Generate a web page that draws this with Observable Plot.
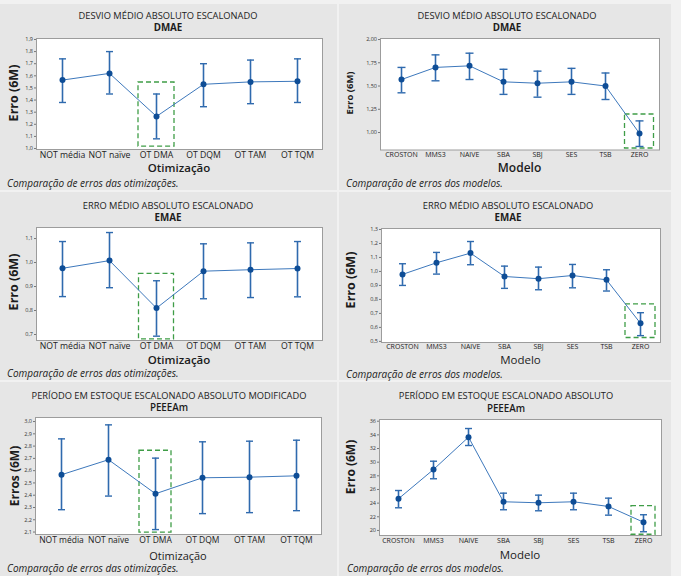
<!DOCTYPE html>
<html><head><meta charset="utf-8">
<script src="https://cdn.jsdelivr.net/npm/d3@7"></script>
<script src="https://cdn.jsdelivr.net/npm/@observablehq/plot@0.6"></script>
<style>
body{margin:0;background:#fff;font-family:"Open Sans",sans-serif;}
#page{position:relative;width:681px;height:576px;background:#f1f1f1;overflow:hidden;}
.panel{position:absolute;background:#e6e6e6;}
.t{position:absolute;white-space:nowrap;color:#1c1c1c;line-height:1;transform:translate(-50%,-50%);}
.cap{transform:translate(0,-50%);font-style:italic;font-size:10px;}
.yl{transform:translate(-50%,-50%) rotate(-90deg);font-weight:700;}
.svgwrap{position:absolute;}
.svgwrap svg{overflow:visible;}
</style></head><body><div id="page"></div>
<script>
// ---------- categories ----------
const optCats = ["NOT média","NOT naïve","OT DMA","OT DQM","OT TAM","OT TQM"];
const modCats = ["CROSTON","MMS3","NAIVE","SBA","SBJ","SES","TSB","ZERO"];

// ---------- DMAE ----------
const dmaeOptMean = [1.565,1.62,1.265,1.53,1.55,1.555];
const dmaeOptLow  = [1.38,1.45,1.08,1.345,1.37,1.38];
const dmaeOptHigh = [1.74,1.80,1.45,1.70,1.73,1.74];
const dmaeModMean = [1.57,1.70,1.717,1.545,1.53,1.545,1.50,0.99];
const dmaeModLow  = [1.427,1.556,1.57,1.41,1.38,1.41,1.355,0.85];
const dmaeModHigh = [1.70,1.835,1.853,1.68,1.66,1.69,1.64,1.125];

// ---------- EMAE ----------
const emaeOptMean = [0.976,1.008,0.81,0.964,0.97,0.975];
const emaeOptLow  = [0.858,0.895,0.693,0.849,0.854,0.857];
const emaeOptHigh = [1.0875,1.125,0.924,1.078,1.082,1.0875];
const emaeModMean = [0.979,1.062,1.131,0.964,0.948,0.971,0.94,0.629];
const emaeModLow  = [0.90,0.981,1.048,0.879,0.869,0.883,0.86,0.541];
const emaeModHigh = [1.055,1.136,1.214,1.038,1.031,1.05,1.012,0.705];

// ---------- PEEEAm ----------
const peeOptMean = [2.567,2.689,2.412,2.542,2.547,2.558];
const peeOptLow  = [2.282,2.393,2.12,2.25,2.258,2.274];
const peeOptHigh = [2.859,2.973,2.702,2.835,2.84,2.848];
const peeModMean = [24.64,28.93,33.66,24.2,24.05,24.2,23.51,21.21];
const peeModLow  = [23.32,27.57,32.44,23.03,22.88,23.03,22.24,19.81];
const peeModHigh = [25.85,30.14,34.93,25.46,25.17,25.46,24.73,22.3];

// ---------- tick values ----------
const dmaeOptTicks = [1.0,1.1,1.2,1.3,1.4,1.5,1.6,1.7,1.8,1.9];
const dmaeModTicks = [1.00,1.25,1.50,1.75,2.00];
const emaeOptTicks = [0.7,0.8,0.9,1.0,1.1];
const emaeModTicks = [0.5,0.6,0.7,0.8,0.9,1.0,1.1,1.2,1.3];
const peeOptTicks  = [2.1,2.2,2.3,2.4,2.5,2.6,2.7,2.8,2.9,3.0];
const peeModTicks  = [20,22,24,26,28,30,32,34,36];

// ---------- highlighted (dashed green) ranges ----------
const dmaeOptBox = [1.016,1.545];
const dmaeModBox = [0.828,1.194];
const emaeOptBox = [0.68,0.953];
const emaeModBox = [0.524,0.764];
const peeOptBox  = [2.095,2.762];
const peeModBox  = [19.37,23.55];

// ---------- texts ----------
const titlesDMAE = ["DESVIO MÉDIO ABSOLUTO ESCALONADO","DMAE"];
const titlesEMAE = ["ERRO MÉDIO ABSOLUTO ESCALONADO","EMAE"];
const titlesPEEOpt = ["PERÍODO EM ESTOQUE ESCALONADO ABSOLUTO MODIFICADO","PEEEAm"];
const titlesPEEMod = ["PERÍODO EM ESTOQUE ESCALONADO ABSOLUTO","PEEEAm"];
const capOpt = "Comparação de erros das otimizações.";
const capMod = "Comparação de erros dos modelos.";

const page = document.getElementById("page");
const comma = k => d => d.toFixed(k).replace(".", ",");
// horizontal-bar symbol used for the error-bar caps (half-width = r)
const capSymbol = {draw(ctx, size){ const h = Math.sqrt(size / Math.PI); ctx.moveTo(-h, 0); ctx.lineTo(h, 0); }};

function txt(s, x, y, cls, style){
  const d = document.createElement("div");
  d.className = "t " + (cls||"");
  d.textContent = s;
  d.style.left = x + "px"; d.style.top = y + "px";
  Object.assign(d.style, style||{});
  page.appendChild(d);
}

function panel(c){
  const p = c.panel, f = c.frame;
  const bg = document.createElement("div");
  bg.className = "panel";
  Object.assign(bg.style, {left:p.x+"px", top:p.y+"px", width:p.w+"px", height:p.h+"px"});
  page.appendChild(bg);

  const data = c.cats.map((k,i)=>({c:k, m:c.mean[i], lo:c.low[i], hi:c.high[i]}));
  const box = [{c:c.boxCat, y1:c.box[0], y2:c.box[1]}];
  const blue = "#2f6aae";
  const svg = Plot.plot({
    width: p.w, height: p.h,
    marginLeft: f.x0 - p.x, marginRight: p.x + p.w - f.x1,
    marginTop: f.y0 - p.y, marginBottom: p.y + p.h - f.y1,
    style: {background:"transparent", fontFamily:"'Open Sans', sans-serif", color:"#222"},
    x: {type:"point", domain:c.cats, padding:0.5},
    y: {domain:c.ydom},
    marks: [
      Plot.frame({fill:"white", stroke:"#9c9c9c"}),
      Plot.axisY(c.ticks, {tickFormat:c.fmt, tickSize:2, tickPadding:1.5, fontSize:5.5, label:null, stroke:"#777", fill:"#333"}),
      Plot.axisX({tickSize:0, tickPadding:c.xtp||2.5, fontSize:c.xfs, label:null, fill:"#222"}),
      Plot.rect(box, {x1:"c", x2:"c", y1:"y1", y2:"y2", insetLeft:-c.hw, insetRight:-c.hw, fill:"none", stroke:"#3f9d47", strokeWidth:1.3, strokeDasharray:"5,3"}),
      Plot.line(data, {x:"c", y:"m", stroke:"#3d78bc", strokeWidth:1}),
      Plot.ruleX(data, {x:"c", y1:"lo", y2:"hi", stroke:blue, strokeWidth:1.6}),
      Plot.dot(data, {x:"c", y:"lo", r:c.cap, symbol:capSymbol, stroke:blue, strokeWidth:1.4}),
      Plot.dot(data, {x:"c", y:"hi", r:c.cap, symbol:capSymbol, stroke:blue, strokeWidth:1.4}),
      Plot.dot(data, {x:"c", y:"m", r:3, fill:"#0e4d96"})
    ]
  });
  const w = document.createElement("div");
  w.className = "svgwrap";
  w.style.left = p.x + "px"; w.style.top = p.y + "px";
  w.appendChild(svg);
  page.appendChild(w);

  const cx = (f.x0 + f.x1) / 2;
  txt(c.titles[0], c.tx, c.ty1, "", {fontSize:"9.3px"});
  txt(c.titles[1], c.tx, c.ty2, "", {fontSize:"9.8px", fontWeight:c.t2w||"700"});
  txt(c.xlabel, cx, c.xly, "", {fontSize:c.xlfs+"px", fontWeight:c.xlw});
  txt(c.ylabel, c.ylx, c.yly, "yl", {fontSize:c.ylfs+"px"});
  txt(c.caption, c.capx, c.capy, "cap");
}

panel({panel:{x:0,y:4,w:337,h:186}, frame:{x0:36,x1:322,y0:38,y1:149},
  cats:optCats, mean:dmaeOptMean, low:dmaeOptLow, high:dmaeOptHigh,
  ydom:[0.992,1.908], ticks:dmaeOptTicks, fmt:comma(1), xfs:8.7,
  boxCat:"OT DMA", box:dmaeOptBox, hw:18, cap:3.5,
  titles:titlesDMAE, tx:168, ty1:15.5, ty2:27.5,
  xlabel:"Otimização", xly:167.5, xlfs:11.5, xlw:600,
  ylabel:"Erro (6M)", ylx:14, yly:93, ylfs:12.5,
  caption:capOpt, capx:7, capy:183});

panel({panel:{x:339,y:4,w:332,h:186}, frame:{x0:380,x1:659,y0:38,y1:149.5},
  cats:modCats, mean:dmaeModMean, low:dmaeModLow, high:dmaeModHigh,
  ydom:[0.812,2.011], ticks:dmaeModTicks, fmt:comma(2), xfs:7,
  boxCat:"ZERO", box:dmaeModBox, hw:14.5, cap:4,
  titles:titlesDMAE, tx:507, ty1:15.5, ty2:27.5,
  xlabel:"Modelo", xly:167.5, xlfs:12, xlw:600,
  ylabel:"Erro (6M)", ylx:350, yly:93, ylfs:9.5,
  caption:capMod, capx:346, capy:183});

panel({panel:{x:0,y:192,w:337,h:188}, frame:{x0:36,x1:322,y0:227,y1:340},
  cats:optCats, mean:emaeOptMean, low:emaeOptLow, high:emaeOptHigh,
  ydom:[0.675,1.146], ticks:emaeOptTicks, fmt:comma(1), xfs:8.7,
  boxCat:"OT DMA", box:emaeOptBox, hw:17.5, cap:3.5,
  titles:titlesEMAE, tx:168, ty1:205.5, ty2:217.5,
  xlabel:"Otimização", xly:359.5, xlfs:11.5, xlw:600,
  ylabel:"Erro (6M)", ylx:14, yly:282, ylfs:12.5,
  caption:capOpt, capx:7, capy:373});

panel({panel:{x:339,y:192,w:332,h:188}, frame:{x0:381,x1:660,y0:228,y1:342},
  cats:modCats, mean:emaeModMean, low:emaeModLow, high:emaeModHigh,
  ydom:[0.492,1.307], ticks:emaeModTicks, fmt:comma(1), xfs:7, xtp:1.5,
  boxCat:"ZERO", box:emaeModBox, hw:15, cap:3.5,
  titles:titlesEMAE, tx:508, ty1:205.5, ty2:217.5,
  xlabel:"Modelo", xly:360, xlfs:11.5, xlw:400,
  ylabel:"Erro (6M)", ylx:351, yly:280, ylfs:12.5,
  caption:capMod, capx:346, capy:373.5});

panel({panel:{x:0,y:382,w:337,h:194}, frame:{x0:35,x1:321,y0:417,y1:534},
  cats:optCats, mean:peeOptMean, low:peeOptLow, high:peeOptHigh,
  ydom:[2.08,3.033], ticks:peeOptTicks, fmt:comma(1), xfs:8.5,
  boxCat:"OT DMA", box:peeOptBox, hw:16, cap:3.5,
  titles:titlesPEEOpt, tx:169, ty1:396, ty2:408, t2w:"600",
  xlabel:"Otimização", xly:554.5, xlfs:11, xlw:400,
  ylabel:"Erros (6M)", ylx:15, yly:476, ylfs:12,
  caption:capOpt, capx:7, capy:568});

panel({panel:{x:339,y:382,w:332,h:194}, frame:{x0:379,x1:661,y0:419,y1:535},
  cats:modCats, mean:peeModMean, low:peeModLow, high:peeModHigh,
  ydom:[19.26,36.25], ticks:peeModTicks, fmt:d => String(d), xfs:7,
  boxCat:"ZERO", box:peeModBox, hw:12, cap:3.5,
  titles:titlesPEEMod, tx:506, ty1:396, ty2:408.5, t2w:"600",
  xlabel:"Modelo", xly:554.5, xlfs:11.5, xlw:400,
  ylabel:"Erro (6M)", ylx:351, yly:467, ylfs:12,
  caption:capMod, capx:347, capy:568});
</script></body></html>
